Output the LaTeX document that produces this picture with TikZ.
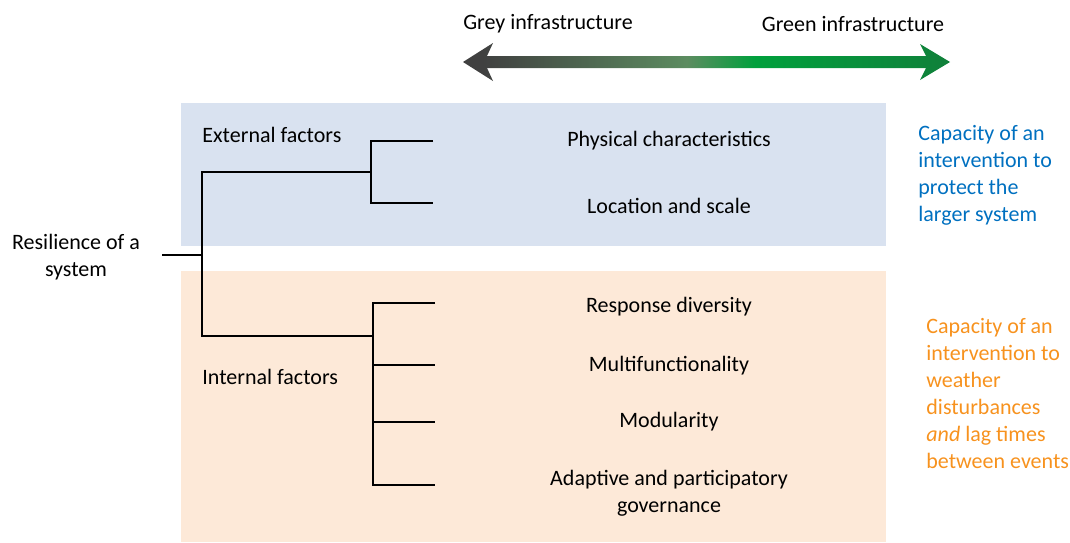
\documentclass[tikz,border=0pt]{standalone}
\usepackage{fontspec}
\setmainfont{Carlito}
\definecolor{extblue}{RGB}{217,226,240}
\definecolor{intorange}{RGB}{253,233,216}
\definecolor{capblue}{RGB}{0,112,192}
\definecolor{caporange}{RGB}{247,146,30}
\definecolor{darkgrey}{RGB}{64,64,64}
\definecolor{midgreen}{RGB}{92,140,96}
\definecolor{brightgreen}{RGB}{0,160,60}
\definecolor{endgreen}{RGB}{16,128,58}
\pgfdeclarehorizontalshading{infra}{100bp}{color(0bp)=(darkgrey); color(27bp)=(darkgrey); color(48bp)=(midgreen); color(55bp)=(brightgreen); color(75bp)=(endgreen); color(100bp)=(endgreen)}
\tikzset{
  tree/.style={line width=1pt, black},
  item/.style={inner sep=0pt, align=center},
  factor/.style={inner sep=0pt, anchor=west}
}
\begin{document}
\begin{tikzpicture}[x=0.5pt,y=-0.5pt,font=\fontsize{11}{13.5}\selectfont]
        \useasboundingbox (0,0) rectangle (1070,542);

        % Background regions
        \fill[extblue] (181,103) rectangle (886,246);
        \fill[intorange] (181,271) rectangle (886,542);

        % Grey to green arrow
        \shade[shading=infra] (463,62) -- (493,43) -- (487,56) -- (926,56) -- (920,44)
          -- (950,62) -- (920,80) -- (926,68) -- (487,68) -- (493,81) -- cycle;
        \node[item] (grey) at (548,24) {Grey infrastructure};
        \node[item] (green) at (853,24) {Green infrastructure};

        % Labels
        \node[item] (root) at (76,257) {Resilience of a\\system};
        \node[factor] (ext) at (202,135) {External factors};
        \node[factor] (int) at (202,377) {Internal factors};

        \node[item] (phys) at (669,141) {Physical characteristics};
        \node[item] (loc) at (669,206) {Location and scale};
        \node[item] (resp) at (669,307) {Response diversity};
        \node[item] (multi) at (669,366) {Multifunctionality};
        \node[item] (modu) at (669,422) {Modularity};
        \node[item] (adapt) at (669,493) {Adaptive and participatory\\governance};

        \node[factor, align=left, text=capblue] (protect) at (918,175)
          {Capacity of an\\intervention to\\protect the\\larger system};
        \node[factor, align=left, text=caporange] (weather) at (926,394)
          {Capacity of an\\intervention to\\weather\\disturbances\\\textit{and} lag times\\between events};

        % Tree junctions
        \coordinate (r) at (162,255);
        \coordinate (rj) at (202,255);
        \coordinate (ej) at (371,172);
        \coordinate (ij) at (373,336);
        \coordinate (e1) at (433,141);
        \coordinate (e2) at (433,203);
        \coordinate (i1) at (435,303);
        \coordinate (i2) at (435,365);
        \coordinate (i3) at (435,422);
        \coordinate (i4) at (435,485);

        % Tree
        \draw[tree] (r) -- (rj);
        \draw[tree] (ej) -| (rj) |- (ij);
        \draw[tree] (e1) -| (ej) |- (e2);
        \draw[tree] (i1) -| (ij) |- (i4);
        \draw[tree] (ij |- i2) -- (i2);
        \draw[tree] (ij |- i3) -- (i3);
      \end{tikzpicture}
\end{document}
